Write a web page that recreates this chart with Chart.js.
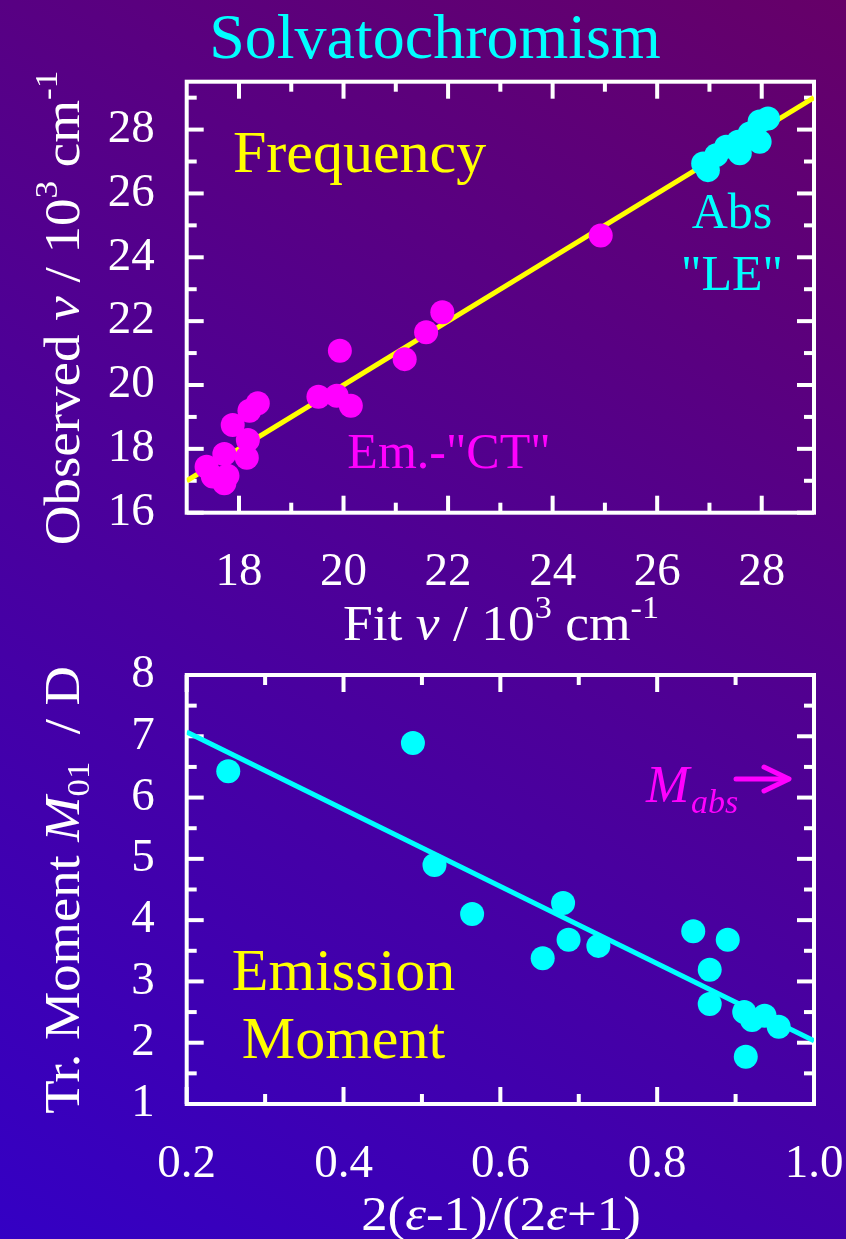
<!DOCTYPE html>
<html>
<head>
<meta charset="utf-8">
<script src="https://cdn.jsdelivr.net/npm/chart.js@4/dist/chart.umd.min.js"></script>
<style>
  html, body { margin: 0; padding: 0; }
  body {
    width: 846px; height: 1239px; position: relative; overflow: hidden;
    background: linear-gradient(30deg, #3400c4 0%, #4d0098 50%, #660068 100%);
  }
  canvas { position: absolute; left: 0; }
  #freq { top: 0; }
  #moment { top: 620px; }
</style>
</head>
<body>
<canvas id="freq" width="846" height="660"></canvas>
<canvas id="moment" width="846" height="619"></canvas>
<script>
// ---- Frequency panel: observed vs. fitted band positions (10^3 cm^-1) ----
const fitTicks   = [18, 20, 22, 24, 26, 28];
const fitMinor   = [19, 21, 23, 25, 27];
const obsTicks   = [16, 18, 20, 22, 24, 26, 28];
const obsMinor   = [17, 19, 21, 23, 25, 27, 29];

// emission ("CT") bands
const emFit = [17.38, 17.50, 17.72, 17.78, 17.72, 17.88, 18.15, 18.17, 18.20, 18.36,
               19.52, 19.87, 19.93, 20.14, 21.17, 21.58, 21.89, 24.92];
const emObs = [17.44, 17.13, 16.92, 17.16, 17.84, 18.75, 17.72, 18.28, 19.19, 19.43,
               19.63, 19.66, 21.07, 19.35, 20.81, 21.65, 22.28, 24.68];
// absorption ("LE") bands
const absFit = [26.88, 26.97, 27.13, 27.32, 27.55, 27.58, 27.77, 27.96, 27.96, 28.12];
const absObs = [26.94, 26.73, 27.20, 27.46, 27.62, 27.26, 27.88, 27.62, 28.25, 28.35];
// identity line
const diagFit = [17, 29];
const diagObs = [17, 29];

// ---- Moment panel: emission transition moment vs. solvent polarity ----
const polTicks = [0.2, 0.4, 0.6, 0.8, 1.0];
const polMinor = [0.3, 0.5, 0.7, 0.9];
const momTicks = [1, 2, 3, 4, 5, 6, 7, 8];
const momMinor = [1.5, 2.5, 3.5, 4.5, 5.5, 6.5, 7.5];

const polarity = [0.253, 0.4885, 0.516, 0.564, 0.680, 0.654, 0.687, 0.725, 0.846,
                  0.890, 0.867, 0.867, 0.911, 0.921, 0.937, 0.955, 0.913];
const moment   = [6.43, 6.89, 4.90, 4.10, 4.28, 3.38, 3.68, 3.58, 3.82,
                  3.68, 3.19, 2.63, 2.50, 2.37, 2.44, 2.26, 1.77];
const trendPol = [0.2, 1.0];
const trendMom = [7.07, 2.03];

const pairs = (xs, ys) => xs.map((x, i) => ({ x, y: ys[i] }));

const SERIF = '"Liberation Serif", "Times New Roman", serif';
const WHITE = '#ffffff', CYAN = '#00ffff', MAGENTA = '#ff00ff', YELLOW = '#ffff00';

// draws a run of differently styled pieces (sub/superscripts, italics) as one line
function drawRich(ctx, segs, x, y, o = {}) {
  const align = o.align || 'center';
  ctx.save();
  ctx.translate(x, y);
  if (o.rotate) ctx.rotate(o.rotate);
  if (o.sx) ctx.scale(o.sx, 1);
  ctx.fillStyle = o.color || WHITE;
  ctx.textAlign = 'left';
  ctx.textBaseline = 'alphabetic';
  const fonts = segs.map(s => `${s.italic ? 'italic ' : ''}${s.size}px ${SERIF}`);
  let w = 0;
  segs.forEach((s, i) => { ctx.font = fonts[i]; w += ctx.measureText(s.t).width; });
  let cx = align === 'center' ? -w / 2 : (align === 'right' ? -w : 0);
  segs.forEach((s, i) => {
    ctx.font = fonts[i];
    ctx.fillText(s.t, cx, -(s.dy || 0));
    cx += ctx.measureText(s.t).width;
  });
  ctx.restore();
}

// box around the plot area with inward major/minor tick marks on all four sides
const framePlugin = {
  id: 'frame',
  beforeDatasetsDraw(chart, args, opts) {
    const { ctx, chartArea: a, scales: { x, y } } = chart;
    ctx.save();
    ctx.strokeStyle = WHITE;
    ctx.lineWidth = 4;
    const seg = (x1, y1, x2, y2) => { ctx.beginPath(); ctx.moveTo(x1, y1); ctx.lineTo(x2, y2); ctx.stroke(); };
    const xt = (vals, len) => vals.forEach(v => {
      const p = x.getPixelForValue(v);
      seg(p, a.bottom, p, a.bottom - len);
      seg(p, a.top, p, a.top + len);
    });
    const yt = (vals, len) => vals.forEach(v => {
      const p = y.getPixelForValue(v);
      seg(a.left, p, a.left + len, p);
      seg(a.right, p, a.right - len, p);
    });
    xt(opts.xMajor, 17); xt(opts.xMinor, 10);
    yt(opts.yMajor, 17); yt(opts.yMinor, 10);
    ctx.strokeRect(a.left, a.top, a.right - a.left, a.bottom - a.top);
    ctx.restore();
  }
};

// free-standing labels of each panel
const labelPlugin = {
  id: 'labels',
  afterDraw(chart, args, opts) {
    opts.draw(chart.ctx);
  }
};

const tickFont = { family: SERIF, size: 47 };

// fixed-size axis boxes so both plot frames share the same left/right edges
function fixBox(s, prop, val) {
  s[prop] = val;
  s.paddingLeft = s.paddingRight = s.paddingTop = s.paddingBottom = 0;
}

function axes(xMin, xMax, xTicks, xFmt, yMin, yMax, yTicks, xBoxH) {
  return {
    x: {
      type: 'linear', min: xMin, max: xMax,
      grid: { display: false }, border: { display: false },
      afterBuildTicks: s => { s.ticks = xTicks.map(v => ({ value: v })); },
      afterFit: s => fixBox(s, 'height', xBoxH),
      ticks: { color: WHITE, font: tickFont, padding: 24, maxRotation: 0, autoSkip: false, callback: xFmt }
    },
    y: {
      type: 'linear', min: yMin, max: yMax,
      grid: { display: false }, border: { display: false },
      afterBuildTicks: s => { s.ticks = yTicks.map(v => ({ value: v })); },
      afterFit: s => fixBox(s, 'width', 186.7),
      ticks: { color: WHITE, font: tickFont, padding: 24, autoSkip: false, callback: v => String(v) }
    }
  };
}

const common = {
  responsive: false,
  animation: false,
  devicePixelRatio: 1,
  events: [],
  plugins: { legend: { display: false }, tooltip: { enabled: false } }
};

new Chart(document.getElementById('freq'), {
  type: 'scatter',
  data: {
    datasets: [
      { data: pairs(absFit, absObs), backgroundColor: CYAN, borderWidth: 0, pointRadius: 12, order: 1 },
      { data: pairs(emFit, emObs), backgroundColor: MAGENTA, borderWidth: 0, pointRadius: 12, order: 1 },
      { type: 'line', data: pairs(diagFit, diagObs), borderColor: YELLOW, borderWidth: 5,
        pointRadius: 0, fill: false, order: 2 }
    ]
  },
  options: {
    ...common,
    layout: { padding: { left: 0, right: 32, top: 81.7, bottom: 0 } },
    scales: axes(17, 29, fitTicks, v => String(v), 16, 29.5, obsTicks, 660 - 512.7),
    plugins: {
      ...common.plugins,
      frame: { xMajor: fitTicks, xMinor: fitMinor, yMajor: obsTicks, yMinor: obsMinor },
      labels: {
        draw(ctx) {
          drawRich(ctx, [{ t: 'Solvatochromism', size: 64 }], 435, 58, { color: CYAN });
          drawRich(ctx, [{ t: 'Frequency', size: 60 }], 233, 172, { color: YELLOW, align: 'left' });
          drawRich(ctx, [{ t: 'Abs', size: 50 }], 732, 228, { color: CYAN });
          drawRich(ctx, [{ t: '"LE"', size: 50 }], 732, 290, { color: CYAN });
          drawRich(ctx, [{ t: 'Em.-"CT"', size: 50 }], 449, 468, { color: MAGENTA });
          drawRich(ctx, [
            { t: 'Fit ', size: 50 }, { t: 'ν', size: 50, italic: true }, { t: ' / 10', size: 50 },
            { t: '3', size: 32, dy: 22 }, { t: ' cm', size: 50 }, { t: '-1', size: 32, dy: 22 }
          ], 501, 640, { sx: 1.07 });
          drawRich(ctx, [
            { t: 'Observed ', size: 50 }, { t: 'ν', size: 50, italic: true }, { t: ' / 10', size: 50 },
            { t: '3', size: 32, dy: 22 }, { t: ' cm', size: 50 }, { t: '-1', size: 32, dy: 22 }
          ], 79, 308, { rotate: -Math.PI / 2, sx: 1.1 });
        }
      }
    }
  },
  plugins: [framePlugin, labelPlugin]
});

new Chart(document.getElementById('moment'), {
  type: 'scatter',
  data: {
    datasets: [
      { data: pairs(polarity, moment), backgroundColor: CYAN, borderWidth: 0, pointRadius: 12, order: 1 },
      { type: 'line', data: pairs(trendPol, trendMom), borderColor: CYAN, borderWidth: 5,
        pointRadius: 0, fill: false, order: 2 }
    ]
  },
  options: {
    ...common,
    layout: { padding: { left: 0, right: 32, top: 55, bottom: 0 } },
    scales: axes(0.2, 1.0, polTicks, v => Number(v).toFixed(1), 1, 8, momTicks, 619 - 484),
    plugins: {
      ...common.plugins,
      frame: { xMajor: polTicks, xMinor: polMinor, yMajor: momTicks, yMinor: momMinor },
      labels: {
        draw(ctx) {
          drawRich(ctx, [{ t: 'Emission', size: 60 }], 343.5, 370, { color: YELLOW });
          drawRich(ctx, [{ t: 'Moment', size: 60 }], 343.5, 438, { color: YELLOW });
          drawRich(ctx, [{ t: 'M', size: 52, italic: true }], 646, 182, { color: MAGENTA, align: 'left' });
          drawRich(ctx, [{ t: 'abs', size: 34, italic: true }], 691, 193, { color: MAGENTA, align: 'left' });
          // arrow pointing off the right edge
          ctx.save();
          ctx.strokeStyle = MAGENTA; ctx.lineWidth = 5; ctx.lineCap = 'round'; ctx.lineJoin = 'round';
          ctx.beginPath(); ctx.moveTo(736, 159); ctx.lineTo(788, 159); ctx.stroke();
          ctx.beginPath(); ctx.moveTo(764, 147); ctx.lineTo(789, 159); ctx.lineTo(764, 171); ctx.stroke();
          ctx.restore();
          drawRich(ctx, [
            { t: '2(', size: 48 }, { t: 'ε', size: 48, italic: true }, { t: '-1)/(2', size: 48 },
            { t: 'ε', size: 48, italic: true }, { t: '+1)', size: 48 }
          ], 501, 610, { sx: 1.1 });
          drawRich(ctx, [
            { t: 'Tr. Moment ', size: 50 }, { t: 'M', size: 50, italic: true },
            { t: '01', size: 32, dy: -10 }, { t: '  / D', size: 50 }
          ], 79, 270, { rotate: -Math.PI / 2, sx: 1.09 });
        }
      }
    }
  },
  plugins: [framePlugin, labelPlugin]
});
</script>
</body>
</html>
